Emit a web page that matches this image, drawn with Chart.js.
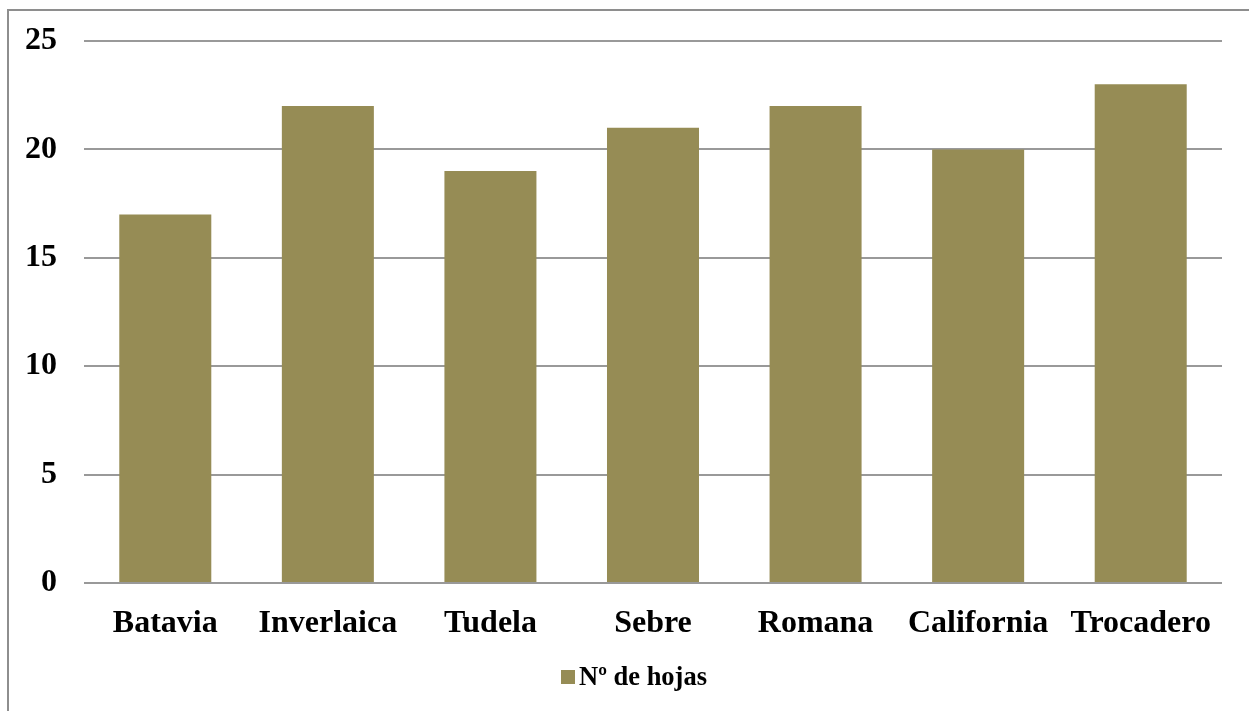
<!DOCTYPE html>
<html>
<head>
<meta charset="utf-8">
<script src="https://cdn.jsdelivr.net/npm/chart.js@4"></script>
<style>
  html, body { margin: 0; padding: 0; background: #fff; overflow: hidden; }
  #frame {
    position: absolute; left: 7px; top: 9px; width: 1300px; height: 800px;
    border-left: 2px solid #8e8e8e; border-top: 2px solid #8e8e8e;
  }
  #wrap { position: absolute; left: 0; top: 0; width: 1249px; height: 711px; }
</style>
</head>
<body>
<div id="frame"></div>
<div id="wrap"><canvas id="chart"></canvas></div>
<script>
// Chart data
const categories = ['Batavia', 'Inverlaica', 'Tudela', 'Sebre', 'Romana', 'California', 'Trocadero'];
const hojas = [17, 22, 19, 21, 22, 20, 23];
const seriesLabel = 'Nº de hojas';
const yTicks = { min: 0, max: 25, step: 5 };

const barColor = '#968c55';
const gridColor = '#999999';
const fontFamily = '"Liberation Serif", "Times New Roman", serif';

// Legend drawn by hand: box sits closer to the text than Chart.js allows
const bottomLegend = {
  id: 'bottomLegend',
  afterDraw(chart) {
    const c = chart.ctx;
    const ds = chart.data.datasets[0];
    c.save();
    c.font = `bold 26.5px ${fontFamily}`;
    const textW = c.measureText(ds.label).width;
    const box = 14, gap = 4;
    const total = box + gap + textW;
    const cy = 677;
    const x0 = 634 - total / 2;
    c.fillStyle = ds.backgroundColor;
    c.fillRect(x0, cy - box / 2, box, box);
    c.fillStyle = '#000';
    c.textBaseline = 'middle';
    c.textAlign = 'left';
    c.fillText(ds.label, x0 + box + gap, cy + 1);
    c.restore();
  }
};

const ctx = document.getElementById('chart').getContext('2d');
new Chart(ctx, {
  type: 'bar',
  data: {
    labels: categories,
    datasets: [{
      label: seriesLabel,
      data: hojas,
      backgroundColor: barColor,
      borderWidth: 0,
      barPercentage: 0.566,
      categoryPercentage: 1.0
    }]
  },
  options: {
    responsive: true,
    maintainAspectRatio: false,
    animation: false,
    layout: { padding: { left: 0, right: 27, top: 41, bottom: 54 } },
    plugins: {
      tooltip: { enabled: false },
      legend: { display: false }
    },
    scales: {
      x: {
        grid: { display: false, drawTicks: false },
        border: { display: false },
        ticks: {
          color: '#000',
          padding: 22,
          maxRotation: 0,
          autoSkip: false,
          font: { family: fontFamily, size: 32, weight: 'bold' }
        },
        afterFit: (scale) => { scale.height = 74; }
      },
      y: {
        min: yTicks.min,
        max: yTicks.max,
        grid: { color: gridColor, lineWidth: 2, drawTicks: false },
        border: { display: false },
        ticks: {
          stepSize: yTicks.step,
          color: '#000',
          padding: 27,
          font: { family: fontFamily, size: 32, weight: 'bold' }
        },
        afterFit: (scale) => {
          scale.width = 84;
          scale.paddingTop = 0;
          scale.paddingBottom = 0;
        }
      }
    }
  },
  plugins: [bottomLegend]
});
</script>
</body>
</html>
